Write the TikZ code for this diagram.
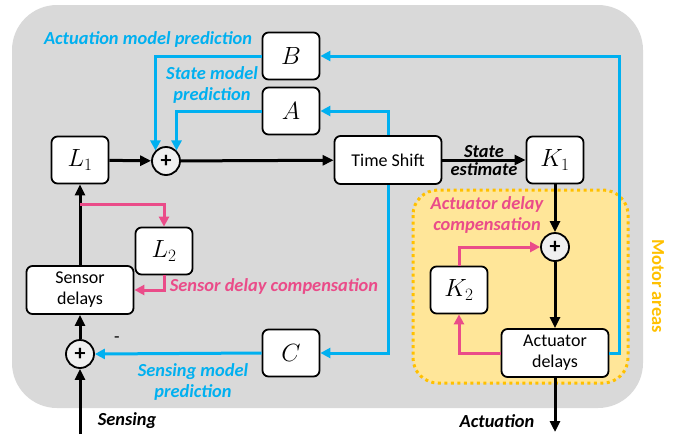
\documentclass[tikz,border=0pt]{standalone}
\usepackage{fontspec}
\setmainfont{Carlito}
\usetikzlibrary{arrows.meta}
\definecolor{bggray}{HTML}{D9D9D9}
\definecolor{modelblue}{HTML}{00B0F0}
\definecolor{delaypink}{HTML}{EA4C89}
\definecolor{motorfill}{HTML}{FFE699}
\definecolor{motorline}{HTML}{FFC000}
\begin{document}
\begin{tikzpicture}[x=1pt,y=1pt,
  blk/.style={draw,fill=white,line width=1.8pt,rounded corners=6pt,minimum width=57pt,minimum height=47pt,font=\fontsize{24}{26}\selectfont},
  wideblk/.style={blk,minimum width=107pt,minimum height=48pt,align=center,font=\fontsize{18}{21}\selectfont},
  sumnode/.style={draw,circle,fill=black!6,line width=1.8pt,minimum size=28pt,inner sep=0pt,font=\fontsize{22}{22}\selectfont\bfseries},
  blackarrow/.style={line width=3pt,-{Triangle[length=11pt,width=10pt]}},
  bluearrow/.style={modelblue,line width=3pt,-{Triangle[length=10pt,width=10pt]}},
  pinkarrow/.style={delaypink,line width=3pt,-{Triangle[length=10pt,width=10pt]}},
  lbl/.style={font=\fontsize{18.4}{21.5}\selectfont\bfseries\itshape,align=center}]

\useasboundingbox (0,0) rectangle (674,-434);
\fill[bggray,rounded corners=45pt] (12,-5) rectangle (643,-408);
\draw[motorline,fill=motorfill,line width=3pt,dash pattern=on 3pt off 3.5pt,rounded corners=25pt] (413,-190) rectangle (628,-383);

\node[blk] (B) at (291,-56) {$B$};
\node[blk] (A) at (291,-111) {$A$};
\node[blk] (L1) at (80,-160) {$L_1$};
\node[sumnode] (plus1) at (166,-161) {+};
\node[wideblk] (TS) at (388,-160) {Time Shift};
\node[blk] (K1) at (555,-160) {$K_1$};
\node[blk] (L2) at (164,-251) {$L_2$};
\node[wideblk] (SD) at (80,-290) {Sensor\\delays};
\node[sumnode] (plus2) at (80,-354) {+};
\node[blk] (C) at (291,-353) {$C$};
\node[sumnode] (plus3) at (555,-247) {+};
\node[blk] (K2) at (459,-290) {$K_2$};
\node[wideblk] (AD) at (555,-353) {Actuator\\delays};

\coordinate (sens) at (80,-434);
\coordinate (act) at (555,-432);
\coordinate (split) at (80,-204);

\draw[blackarrow] (L1) -- (plus1);
\draw[blackarrow] (plus1) -- (TS);
\draw[blackarrow] (TS) -- (K1) node[midway,above,lbl,inner sep=1pt] {State} node[midway,below,lbl,inner sep=1pt] {estimate};
\draw[blackarrow] (K1) -- (plus3);
\draw[blackarrow] (plus3) -- (AD);
\draw[blackarrow] (AD) -- (act);
\draw[blackarrow] (sens) -- (plus2);
\draw[blackarrow] (plus2) -- (SD);
\draw[blackarrow] (SD) -- (L1);

\draw[bluearrow] (AD.east) -- ++(10,0) |- (B.east);
\draw[bluearrow] (TS.north) |- (A.east);
\draw[bluearrow] (TS.south) |- (C.east);
\draw[bluearrow] (B.west) -| (plus1.north west);
\draw[bluearrow] (A.west) -| (plus1.north east);
\draw[bluearrow] (C.west) -- (plus2.east);

\draw[pinkarrow] (split) -| (L2.north);
\draw[pinkarrow] (L2.south) |- (SD.east);
\draw[pinkarrow] (AD.west) -| (K2.south);
\draw[pinkarrow] (K2.north) |- (plus3.west);

\node[lbl,modelblue] (actpred) at (148,-39) {Actuation model prediction};
\node[lbl,modelblue] (statepred) at (212,-85) {State model\\prediction};
\node[lbl,modelblue] (senspred) at (193,-382) {Sensing model\\prediction};
\node[lbl,delaypink] (sdcomp) at (274,-286) {Sensor delay compensation};
\node[lbl,delaypink] (adcomp) at (487,-215) {Actuator delay\\compensation};
\node[lbl] (senslbl) at (127,-421) {Sensing};
\node[lbl] (actlbl) at (497,-421) {Actuation};
\node[font=\fontsize{18}{20}\selectfont] (minus) at (117,-340) {-};
\node[font=\fontsize{18.4}{21}\selectfont\bfseries,motorline,rotate=-90] (motor) at (658,-286) {Motor areas};

\end{tikzpicture}
\end{document}
